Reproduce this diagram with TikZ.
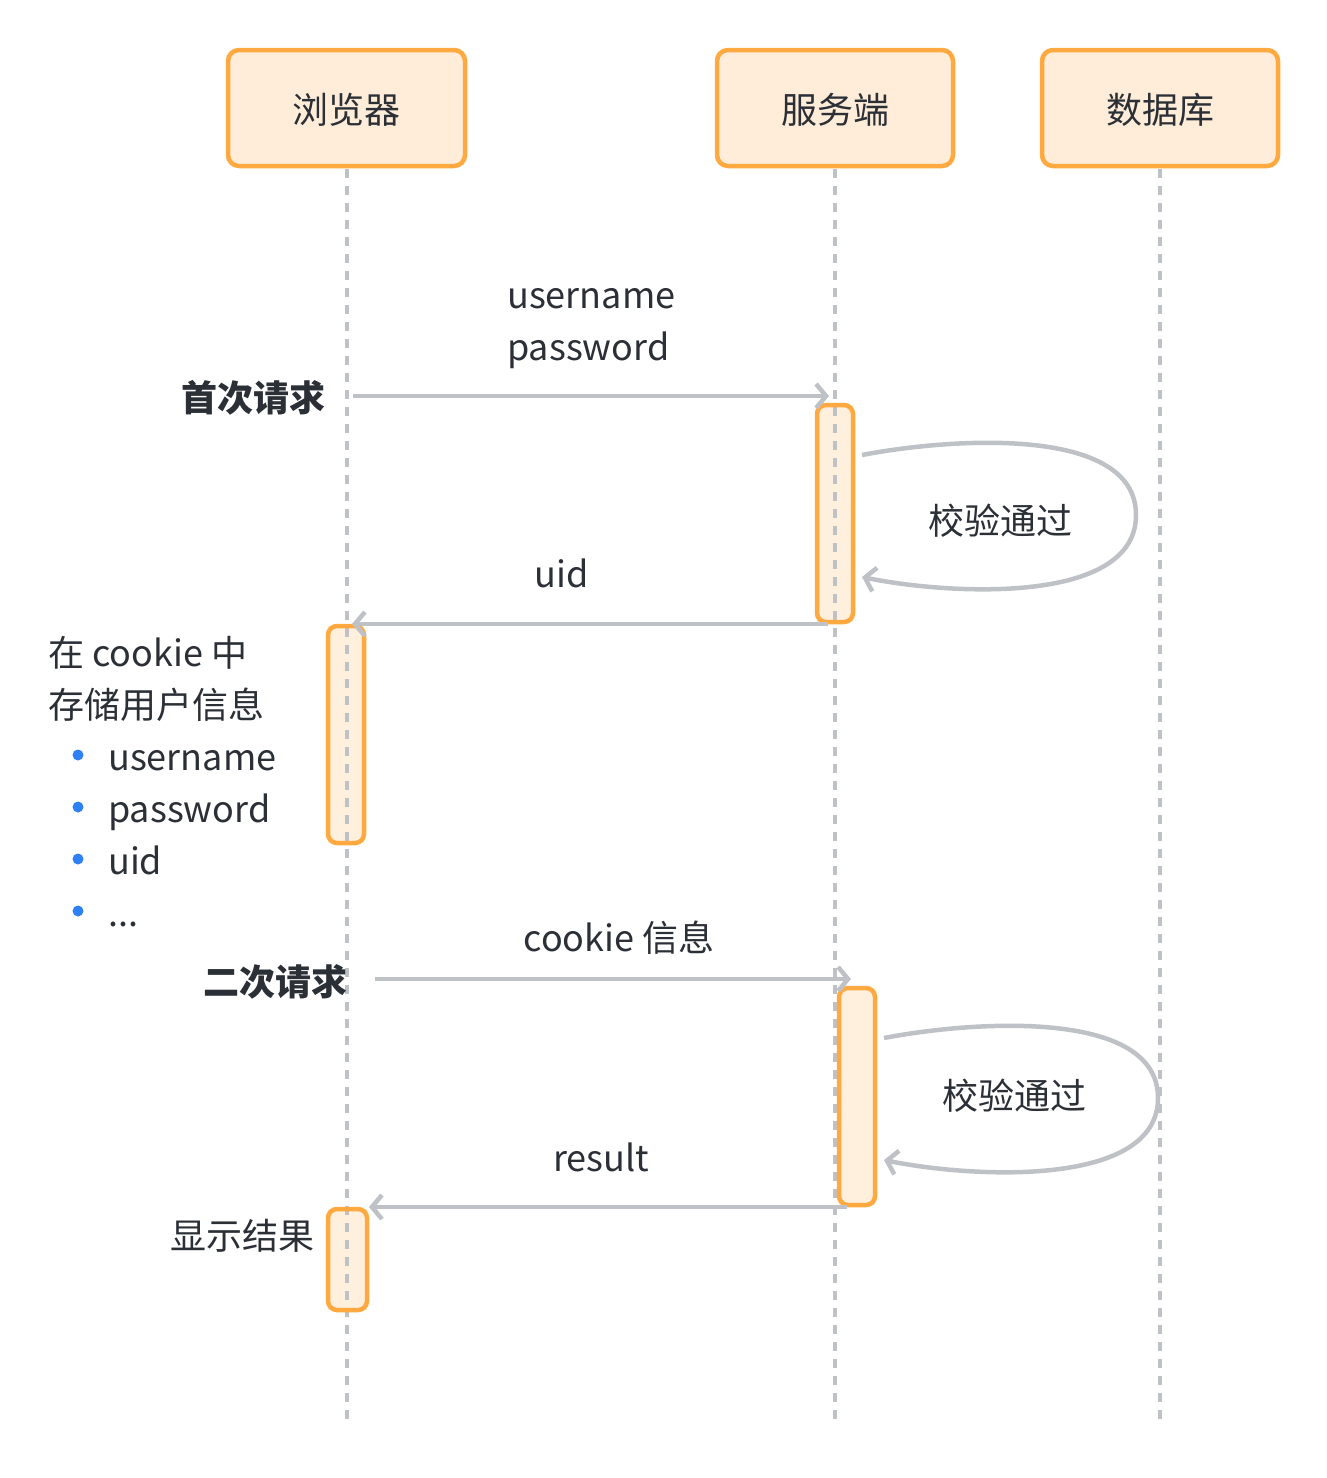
\documentclass[tikz,border=0pt]{standalone}
\usepackage{fontspec}
\setmainfont{Noto Sans CJK SC}
\usetikzlibrary{arrows.meta}
\definecolor{orborder}{HTML}{FFA940}
\definecolor{orfill}{HTML}{FFEDD9}
\definecolor{lgray}{HTML}{BEC1C6}
\definecolor{txt}{HTML}{2B2F36}
\definecolor{bblue}{HTML}{2F80F5}
\tikzset{
  every node/.style={text=txt, font=\fontsize{36pt}{43pt}\selectfont, text height=31.7pt, text depth=4.3pt, inner sep=0pt},
  actor/.style={draw=orborder, fill=orfill, line width=4.5pt, rounded corners=11pt},
  actbar/.style={fill=orfill, fill opacity=0.9},
  actborder/.style={draw=orborder, line width=4.5pt, rounded corners=9pt},
  lifeline/.style={draw=lgray, line width=4pt, dash pattern=on 9pt off 8pt},
  msg/.style={draw=lgray, line width=4.5pt, -{Straight Barb[length=10pt, width=24pt, line width=4.5pt]}},
  boldlbl/.style={font=\fontsize{36pt}{43pt}\selectfont\bfseries},
  bullet/.style={circle, fill=bblue, minimum size=11pt, inner sep=0pt, text height=, text depth=}
}
\begin{document}
\begin{tikzpicture}[x=1pt, y=-1pt]
\useasboundingbox (0,0) rectangle (1326,1478);
% actor boxes
\draw[actor] (228,50) rectangle (465,166);
\draw[actor] (717,50) rectangle (953,166);
\draw[actor] (1042,50) rectangle (1278,166);
\node (a1) at (346.5,110) {浏览器};
\node (a2) at (835,110) {服务端};
\node (a3) at (1160,110) {数据库};
\coordinate (l1t) at (346.5,169);
\coordinate (l1b) at (346.5,1425);
\coordinate (l2t) at (835,169);
\coordinate (l2b) at (835,1425);
\coordinate (l3t) at (1160,169);
\coordinate (l3b) at (1160,1425);
% activation fills
\fill[actbar] (817,405) rectangle (853,622);
\fill[actbar] (328,626) rectangle (364,843);
\fill[actbar] (839,988) rectangle (875,1205);
\fill[actbar] (328,1209) rectangle (367,1310);
% lifelines
\draw[lifeline] (l1t) -- (l1b);
\draw[lifeline] (l2t) -- (l2b);
\draw[lifeline] (l3t) -- (l3b);
% activation borders
\draw[actborder] (817,405) rectangle (853,622);
\draw[actborder] (328,626) rectangle (364,843);
\draw[actborder] (839,988) rectangle (875,1205);
\draw[actborder] (328,1209) rectangle (367,1310);
% first request
\coordinate (m1s) at (353,396);
\coordinate (m1e) at (829,396);
\draw[msg] (m1s) -- (m1e);
\node[anchor=west] (u1) at (507,295) {username};
\node[anchor=west] (p1) at (507,347) {password};
\node[boldlbl, anchor=east] (r1) at (326,398) {首次请求};
% self loop 1
\coordinate (s1a) at (862,455);
\coordinate (s1b) at (862,577);
\draw[msg] (s1a) .. controls (950,438) and (1136,425) .. (1136,515) .. controls (1136,605) and (950,595) .. (s1b);
\node (v1) at (1000,521) {校验通过};
% uid
\node (uid) at (562,574) {uid};
\coordinate (m2s) at (828,624);
\coordinate (m2e) at (352,624);
\draw[msg] (m2s) -- (m2e);
% cookie text
\node[anchor=west] (c1) at (48,653) {在 cookie 中};
\node[anchor=west] (c2) at (48,705) {存储用户信息};
\node[bullet] (b1) at (78,755) {};
\node[bullet] (b2) at (78,807) {};
\node[bullet] (b3) at (78,859) {};
\node[bullet] (b4) at (78,911) {};
\node[anchor=west] (i1) at (108,757) {username};
\node[anchor=west] (i2) at (108,809) {password};
\node[anchor=west] (i3) at (108,861) {uid};
\node[anchor=west] (i4) at (108,913) {...};
% second request
\node (ck) at (619,938) {cookie 信息};
\coordinate (m3s) at (375,979);
\coordinate (m3e) at (851,979);
\draw[msg] (m3s) -- (m3e);
\node[boldlbl, anchor=east] (r2) at (348,982) {二次请求};
% self loop 2
\coordinate (s2a) at (884,1038);
\coordinate (s2b) at (884,1160);
\draw[msg] (s2a) .. controls (972,1021) and (1158,1008) .. (1158,1098) .. controls (1158,1188) and (972,1178) .. (s2b);
\node (v2) at (1014,1096) {校验通过};
% result
\node (res) at (601,1158) {result};
\coordinate (m4s) at (847,1207);
\coordinate (m4e) at (369,1207);
\draw[msg] (m4s) -- (m4e);
\node[anchor=east] (show) at (315,1236) {显示结果};
\end{tikzpicture}
\end{document}
